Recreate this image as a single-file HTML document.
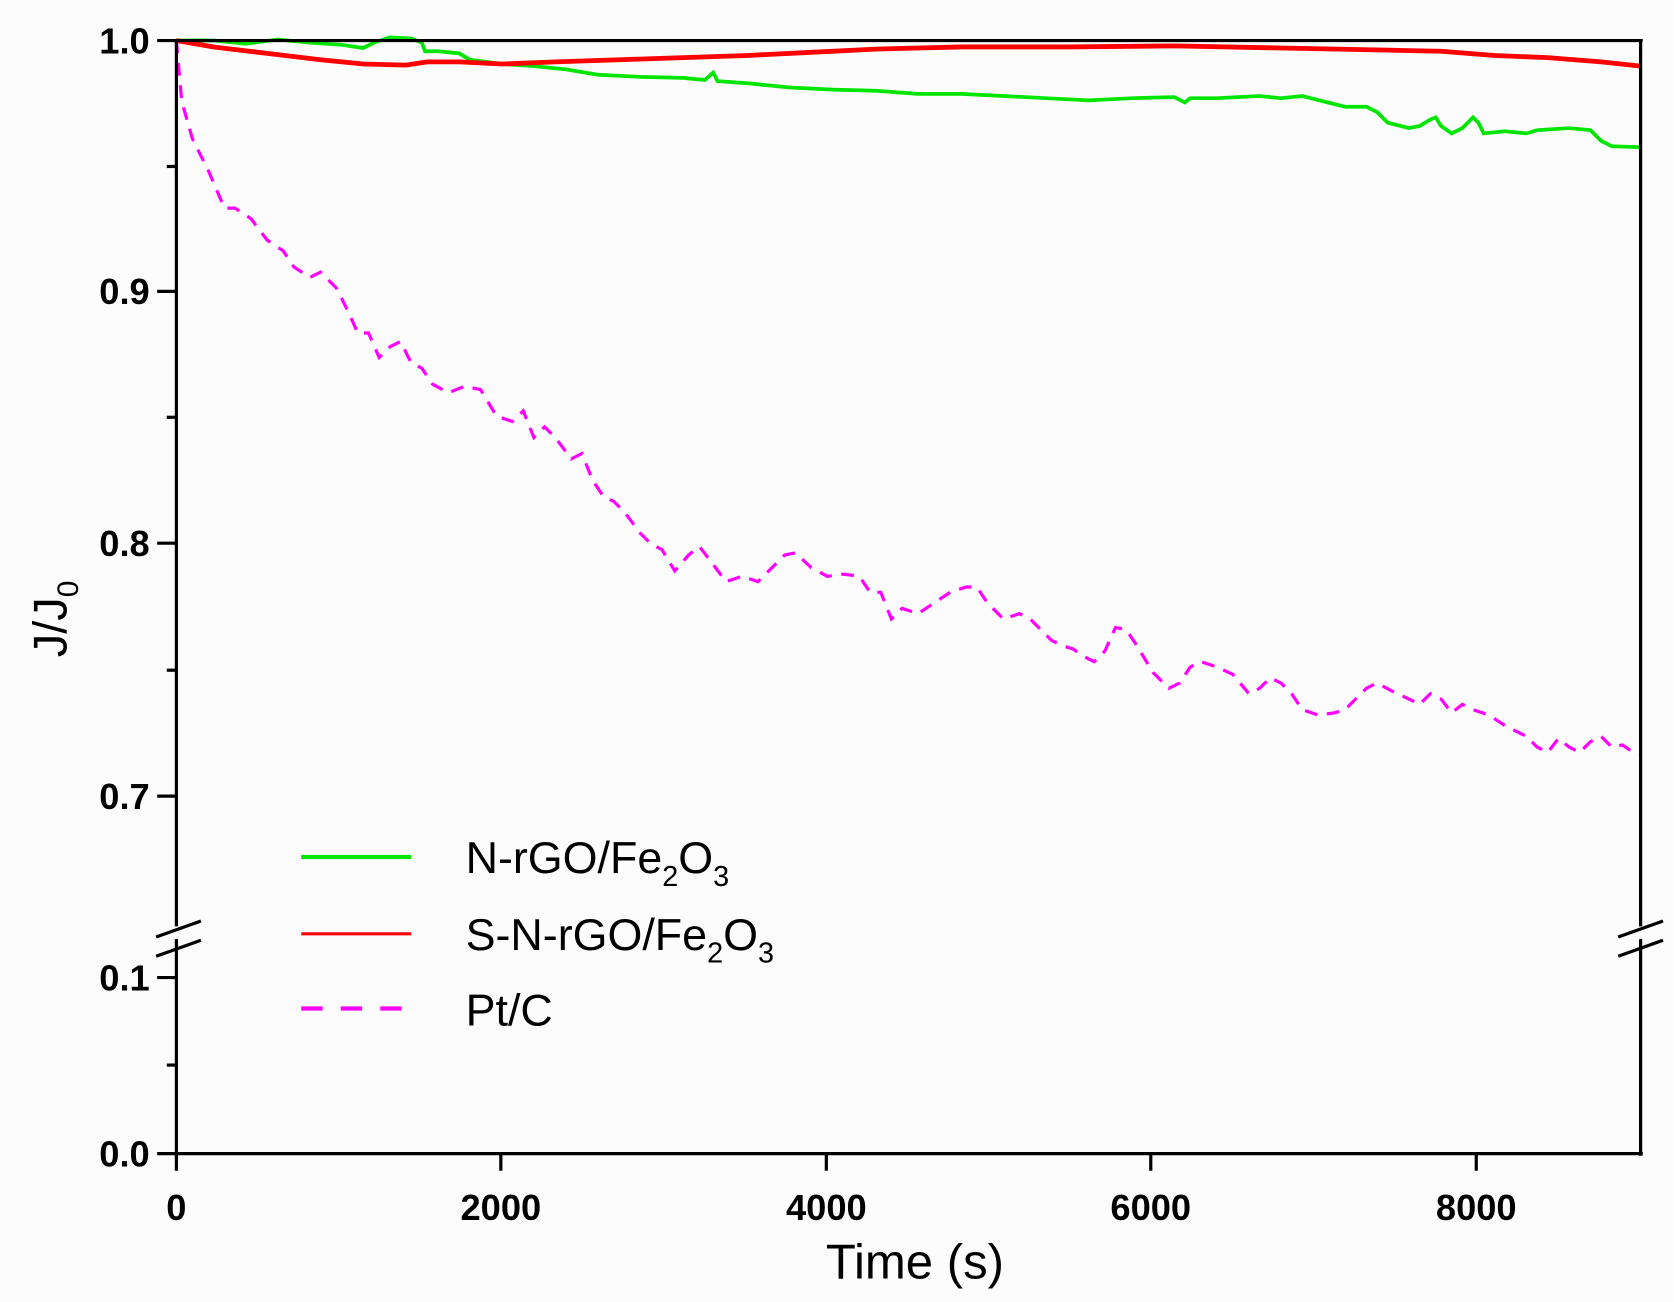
<!DOCTYPE html>
<html><head><meta charset="utf-8"><style>html,body{margin:0;padding:0;background:#fff}svg{display:block}</style></head>
<body>
<svg width="1674" height="1302" viewBox="0 0 1568 1220" xmlns="http://www.w3.org/2000/svg" font-family="Liberation Sans, Arial, sans-serif">
<rect width="1568" height="1220" fill="#fcfcfc"/>
<polyline fill="none" stroke="#00e600" stroke-width="3.5" points="165,38 200,38 230,41 260,37 290,40 320,42 340,45 350,40 365,35 385,36 395,40 398,48 410,48 430,50 440,56 470,60 500,62 530,65 560,70 600,72 640,73 660,75 668,68 672,76 700,78 740,82 780,84 820,85 860,88 900,88 940,90 980,92 1020,94 1060,92 1100,91 1110,96 1115,92 1140,92 1180,90 1200,92 1220,90 1240,95 1260,100 1280,100 1290,105 1300,115 1320,120 1330,118 1340,112 1345,110 1350,118 1360,125 1370,120 1380,110 1385,115 1390,125 1410,123 1430,125 1440,122 1470,120 1490,122 1500,132 1510,137 1537,138"/>
<polyline fill="none" stroke="#ff0000" stroke-width="4.5" points="165,38 200,44 250,50 300,56 340,60 380,61 400,58 430,58 470,60 520,58 580,56 640,54 700,52 760,49 820,46 900,44 1000,44 1100,43 1200,45 1300,47 1350,48 1400,52 1450,54 1500,58 1537,62"/>
<polyline fill="none" stroke="#ff00ff" stroke-width="3" stroke-dasharray="12,9" points="165,38 170,95 180,130 195,160 210,195 220,195 235,205 250,225 265,235 275,250 290,260 300,255 315,270 325,290 335,312 345,312 355,335 365,325 375,320 385,340 395,345 405,360 420,368 435,362 450,365 465,390 480,395 490,385 500,410 510,400 520,410 535,430 545,425 555,450 565,465 575,470 585,480 600,500 610,510 620,515 632,535 645,520 655,512 665,525 680,545 695,540 710,545 720,535 735,520 745,518 760,532 775,540 790,538 805,540 815,555 825,555 835,580 845,570 860,575 875,565 890,555 905,550 915,550 925,565 940,580 955,575 965,580 975,590 985,600 995,605 1005,608 1015,615 1025,620 1035,610 1045,588 1055,590 1065,605 1080,630 1095,645 1105,640 1115,625 1125,620 1140,625 1155,632 1170,650 1180,645 1190,635 1200,640 1210,650 1220,665 1235,670 1250,668 1260,665 1270,655 1280,645 1290,640 1305,648 1320,655 1330,660 1340,650 1350,655 1360,668 1370,660 1380,665 1395,670 1410,680 1420,685 1430,690 1440,700 1450,705 1460,692 1470,700 1480,705 1490,695 1500,690 1510,700 1520,698 1530,705 1537,707"/>
<g stroke="#000" stroke-width="3" fill="none">
<line x1="163" y1="38" x2="1539" y2="38"/>
<line x1="165" y1="38" x2="165" y2="868"/>
<line x1="165" y1="880" x2="165" y2="1097"/>
<line x1="1537" y1="38" x2="1537" y2="868"/>
<line x1="1537" y1="880" x2="1537" y2="1083"/>
<line x1="163" y1="1081" x2="1539" y2="1081"/>
<line x1="147" y1="38" x2="165" y2="38"/>
<line x1="156" y1="156" x2="165" y2="156"/>
<line x1="147" y1="273" x2="165" y2="273"/>
<line x1="156" y1="391" x2="165" y2="391"/>
<line x1="147" y1="509" x2="165" y2="509"/>
<line x1="156" y1="628" x2="165" y2="628"/>
<line x1="147" y1="746" x2="165" y2="746"/>
<line x1="147" y1="916" x2="165" y2="916"/>
<line x1="156" y1="998" x2="165" y2="998"/>
<line x1="147" y1="1081" x2="165" y2="1081"/>
<line x1="469" y1="1081" x2="469" y2="1097"/>
<line x1="774" y1="1081" x2="774" y2="1097"/>
<line x1="1078" y1="1081" x2="1078" y2="1097"/>
<line x1="1383" y1="1081" x2="1383" y2="1097"/>
<line x1="146" y1="878" x2="188" y2="863"/>
<line x1="146" y1="896" x2="188" y2="881"/>
<line x1="1516" y1="878" x2="1558" y2="863"/>
<line x1="1516" y1="896" x2="1558" y2="881"/>
</g>
<g font-size="34" font-weight="bold" fill="#000" text-anchor="end">
<text x="140" y="50">1.0</text>
<text x="140" y="285">0.9</text>
<text x="140" y="521">0.8</text>
<text x="140" y="758">0.7</text>
<text x="140" y="928">0.1</text>
<text x="140" y="1093">0.0</text>
</g>
<g font-size="34" font-weight="bold" fill="#000" text-anchor="middle">
<text x="165" y="1143">0</text>
<text x="469" y="1143">2000</text>
<text x="774" y="1143">4000</text>
<text x="1078" y="1143">6000</text>
<text x="1383" y="1143">8000</text>
</g>
<text x="857" y="1198" font-size="46" text-anchor="middle">Time (s)</text>
<text transform="translate(62,580) rotate(-90)" font-size="44" text-anchor="middle">J/J<tspan font-size="28" dy="11">0</tspan></text>
<line x1="282" y1="803" x2="385" y2="803" stroke="#00e600" stroke-width="4"/>
<line x1="282" y1="875" x2="385" y2="875" stroke="#ff0000" stroke-width="3"/>
<line x1="282" y1="945" x2="385" y2="945" stroke="#ff00ff" stroke-width="4" stroke-dasharray="20,17"/>
<g font-size="42" fill="#000">
<text x="436" y="818">N-rGO/Fe<tspan font-size="27" dy="12">2</tspan><tspan dy="-12">O</tspan><tspan font-size="27" dy="12">3</tspan></text>
<text x="436" y="890">S-N-rGO/Fe<tspan font-size="27" dy="12">2</tspan><tspan dy="-12">O</tspan><tspan font-size="27" dy="12">3</tspan></text>
<text x="436" y="961">Pt/C</text>
</g>
</svg>
</body></html>
